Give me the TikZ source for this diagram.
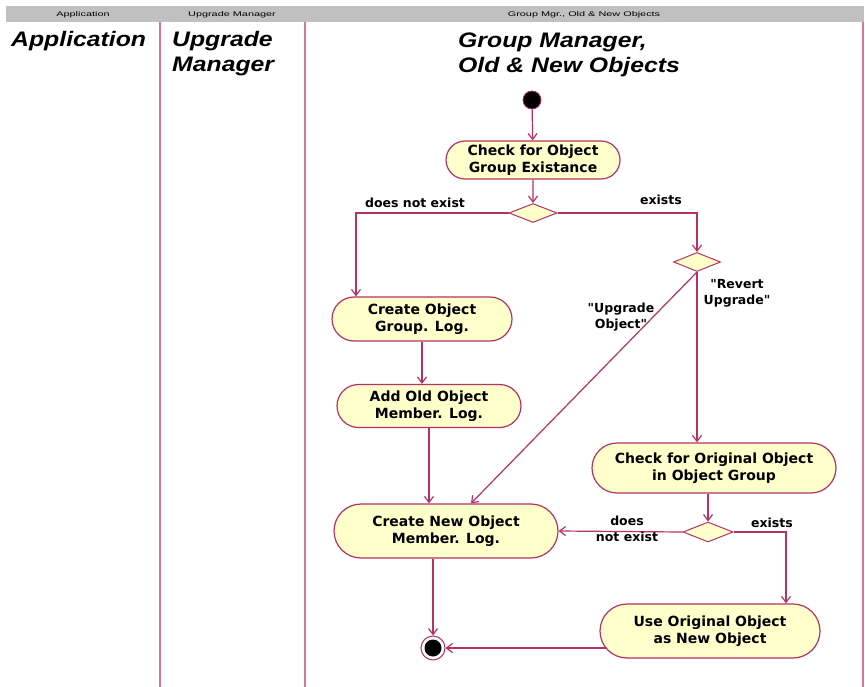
\documentclass[tikz,border=0pt]{standalone}
\usepackage{fontspec}
\setmainfont{DejaVu Sans}
\newfontfamily\titlefont[FakeStretch=1.18]{Liberation Sans}
\newfontfamily\hdrfont[FakeStretch=1.6]{Liberation Sans}
\usetikzlibrary{shapes.misc,shapes.geometric,arrows.meta,calc}
\pgfdeclarelayer{back}
\pgfdeclarelayer{bg}
\pgfsetlayers{back,bg,main}
\definecolor{edgec}{RGB}{180,50,100}
\definecolor{fillc}{RGB}{255,255,204}
\definecolor{lanec}{RGB}{210,120,155}
\definecolor{hdrc}{RGB}{192,192,192}
\begin{document}
\begin{tikzpicture}[x=1pt,y=-1pt,
  act/.style={rounded rectangle, draw=edgec, fill=fillc, line width=1.2pt,
    font=\fontsize{14}{17}\selectfont\bfseries, align=center, inner sep=0pt},
  dec/.style={diamond, draw=edgec, fill=fillc, line width=1pt, inner sep=0pt, aspect=2.5},
  flow/.style={draw=edgec, line width=1.2pt, -{Straight Barb[length=6pt,width=9pt]}},
  lbl/.style={font=\fontsize{12.5}{16}\selectfont\bfseries, align=center, inner sep=0pt},
  lanetitle/.style={font=\titlefont\fontsize{21}{25}\selectfont\bfseries\itshape,
    align=left, inner sep=0pt, anchor=base west},
  hdrtext/.style={font=\hdrfont\fontsize{6.8}{8}\selectfont, inner sep=0pt},
  laneline/.style={draw=lanec, line width=2pt}]

\useasboundingbox (0,0) rectangle (865,687);
\begin{pgfonlayer}{back}
\fill[white] (0,0) rectangle (865,687);
\fill[hdrc] (6,6) rectangle (864,22);
% lane separators
\draw[laneline] (160,22) -- (160,687);
\draw[laneline] (305,22) -- (305,687);
\draw[laneline] (863,22) -- (863,687);
\end{pgfonlayer}

% header texts
\node[hdrtext] (h1) at (83,14.5) {Application};
\node[hdrtext] (h2) at (232,14.5) {Upgrade Manager};
\node[hdrtext] (h3) at (584,14.5) {Group Mgr., Old \& New Objects};

% lane titles (base anchor = baseline of the last line)
\node[lanetitle] (t1) at (11,47) {Application};
\node[lanetitle] (t2) at (172,72) {Upgrade\\Manager};
\node[lanetitle] (t3) at (458,73) {Group Manager,\\Old \& New Objects};

% activity nodes
\node[circle, fill=black, draw=edgec, line width=0.8pt, minimum size=18, inner sep=0pt] (start) at (532,100) {};
\node[act, minimum width=174, minimum height=38] (cg) at (533,160) {Check for Object\\Group Existance};
\node[dec, minimum width=48, minimum height=19] (d1) at (533,213) {};
\node[dec, minimum width=47, minimum height=19] (d2) at (697,262) {};
\node[act, minimum width=180, minimum height=44] (cog) at (422,319) {Create Object\\Group. Log.};
\node[act, minimum width=184, minimum height=43] (aoo) at (429,406) {Add Old Object\\Member. Log.};
\node[act, minimum width=244, minimum height=50] (chk) at (714,468) {Check for Original Object\\in Object Group};
\node[act, minimum width=224, minimum height=54] (cn) at (446,531) {Create New Object\\Member. Log.};
\node[dec, minimum width=50, minimum height=20] (d3) at (708,532) {};
\node[act, minimum width=220, minimum height=54] (uo) at (710,631) {Use Original Object\\as New Object};
\node[circle, draw=edgec, fill=white, line width=1pt, minimum size=24, inner sep=0pt] (final) at (433,648) {};
\node[circle, fill=black, minimum size=17, inner sep=0pt] (finalin) at (final) {};

% labels
\node[lbl] (l1) at (415,203) {does not exist};
\node[lbl] (l2) at (661,200) {exists};
\node[lbl] (l3) at (737,293) {\textquotedbl Revert\\Upgrade\textquotedbl};
\node[lbl] (l4) at (621,317) {\textquotedbl Upgrade\\Object\textquotedbl};
\node[lbl] (l5) at (627,529) {does\\not exist};
\node[lbl] (l6) at (772,523) {exists};

% connectors
\begin{pgfonlayer}{bg}
\draw[flow] (start) -- (cg);
\draw[flow] (cg) -- (d1);
\draw[flow] (d1.west) -| ($(cog.north)+(-66,0)$);
\draw[flow] (d1.east) -| (d2.north);
\draw[flow] (d2.south) -- (d2.south |- chk.north);
\draw[flow] (d2.south) -- ($(cn.north)+(25,0)$);
\draw[flow] (cog.south) -- (cog.south |- aoo.north);
\draw[flow] (aoo.south) -- (aoo.south |- cn.north);
\draw[flow] (chk.south -| d3.north) -- (d3.north);
\draw[flow] (d3.west) -- (cn.east);
\draw[flow] (d3.east) -| ($(uo.north)+(76,0)$);
\draw[flow] (final |- cn.south) -- (final);
\draw[flow] (final -| uo.center) -- (final);
\end{pgfonlayer}
\end{tikzpicture}
\end{document}
